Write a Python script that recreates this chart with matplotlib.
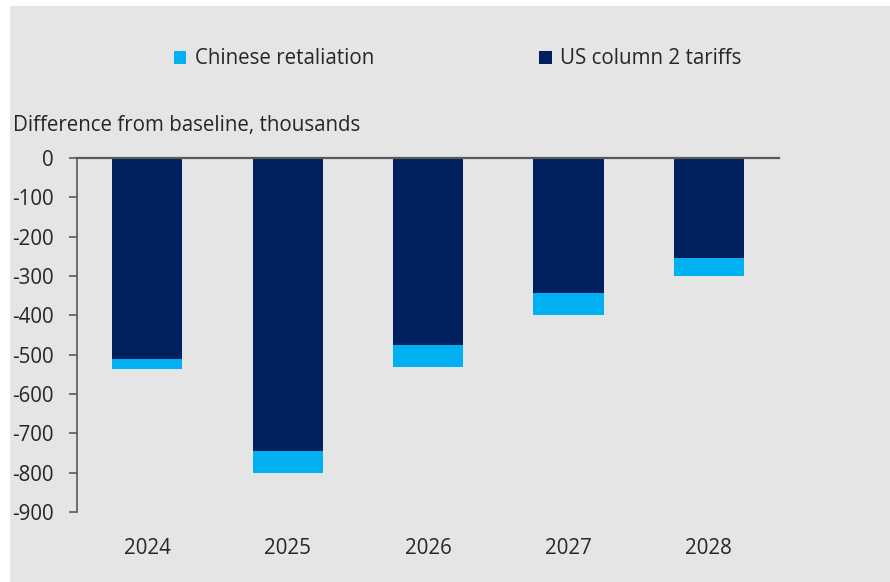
import matplotlib.pyplot as plt
from matplotlib.patches import Rectangle

# Employment impact by year, thousands (difference from baseline)
years = ["2024", "2025", "2026", "2027", "2028"]
us_tariffs = [-512, -745, -475, -344, -255]
china_retaliation = [-25, -56, -56, -54, -45]

NAVY = "#002060"
CYAN = "#00B0F0"
PANEL = "#e5e5e5"
TEXT = "#262626"
AXIS = "#595959"
FS = 14.8

plt.rcParams["font.family"] = ["Open Sans", "DejaVu Sans"]
plt.rcParams["axes.unicode_minus"] = False

fig = plt.figure(figsize=(8.9, 5.82), dpi=100)
fig.patch.set_facecolor("white")

# grey chart panel below a thin white strip
fig.patches.append(Rectangle((10 / 890, 0), 1, 1 - 6 / 582,
                             transform=fig.transFigure, facecolor=PANEL,
                             edgecolor="none", zorder=-5))

ax = fig.add_axes([77 / 890, 1 - 512 / 582, (779 - 77) / 890, (512 - 158) / 582])
ax.set_facecolor("none")

x = range(len(years))
ax.bar(x, us_tariffs, width=0.5, color=NAVY, label="US column 2 tariffs", zorder=2)
ax.bar(x, china_retaliation, width=0.5, bottom=us_tariffs, color=CYAN,
       label="Chinese retaliation", zorder=2)

ax.set_xlim(-0.5, len(years) - 0.5)
ax.set_ylim(-900, 0)
ax.set_yticks(range(0, -901, -100))
ax.set_xticks(list(x))
ax.set_xticklabels(years)

for side in ["top", "right", "bottom"]:
    ax.spines[side].set_visible(False)
ax.spines["left"].set_color(AXIS)
ax.spines["left"].set_linewidth(1.2)
ax.axhline(0, color=AXIS, linewidth=1.6, zorder=3, clip_on=False)

ax.tick_params(axis="y", length=6, width=1.2, color=AXIS, pad=11,
               labelsize=FS, labelcolor=TEXT)
ax.tick_params(axis="x", length=0, pad=19, labelsize=FS, labelcolor=TEXT)

fig.text(13 / 890, 1 - 125 / 582, "Difference from baseline, thousands",
         fontsize=FS, color=TEXT, va="center", ha="left")

handles, labels = ax.get_legend_handles_labels()
fig.legend(handles[::-1], labels[::-1], loc="center left", ncol=2,
           bbox_to_anchor=(174 / 890, 1 - 59 / 582), frameon=False,
           fontsize=FS, labelcolor=TEXT, handlelength=0.6, handleheight=0.6,
           handletextpad=0.4, columnspacing=8.05, borderaxespad=0, borderpad=0)

fig.savefig("out.png", dpi=100, facecolor=fig.get_facecolor())
